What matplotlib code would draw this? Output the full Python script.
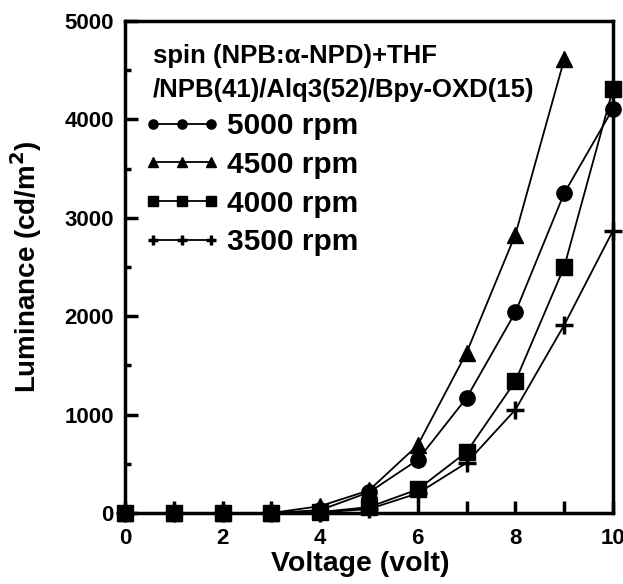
import matplotlib
matplotlib.use("Agg")
import matplotlib.pyplot as plt
from matplotlib.ticker import MultipleLocator

plt.rcParams['font.family'] = ['Liberation Sans', 'DejaVu Sans']
plt.rcParams['font.weight'] = 'bold'

voltage = [0, 1, 2, 3, 4, 5, 6, 7, 8, 9, 10]
lum_5000 = [0, 0, 0, 0, 30, 210, 540, 1170, 2040, 3250, 4110]
lum_4500 = [0, 0, 0, 0, 70, 230, 690, 1630, 2830, 4610]
lum_4000 = [0, 0, 0, 0, 10, 60, 240, 620, 1340, 2500, 4310]
lum_3500 = [0, 0, 0, 0, 5, 40, 200, 510, 1050, 1910, 2870]
labels = ['5000 rpm', '4500 rpm', '4000 rpm', '3500 rpm']
title_lines = ['spin (NPB:α-NPD)+THF', '/NPB(41)/Alq3(52)/Bpy-OXD(15)']

fig = plt.figure(figsize=(6.23, 5.84), dpi=100)
ax = fig.add_axes([125/623, 1-513/584, 488/623, 492/584])

kw = dict(color='black', lw=1.3, clip_on=False, zorder=3)
ax.plot(voltage, lum_5000, marker='o', ms=11, label=labels[0], **kw)
ax.plot(voltage[:len(lum_4500)], lum_4500, marker='^', ms=11, label=labels[1], **kw)
ax.plot(voltage, lum_4000, marker='s', ms=11.5, label=labels[2], **kw)
ax.plot(voltage, lum_3500, marker='+', ms=13, mew=2.5, label=labels[3], **kw)

ax.set_xlim(0, 10)
ax.set_ylim(0, 5000)
ax.xaxis.set_major_locator(MultipleLocator(2))
ax.xaxis.set_minor_locator(MultipleLocator(1))
ax.yaxis.set_major_locator(MultipleLocator(1000))
ax.yaxis.set_minor_locator(MultipleLocator(500))
ax.tick_params(which='both', direction='in', width=2.5, labelsize=16, top=False, right=False)
ax.tick_params(axis='x', which='both', length=9, pad=11)
ax.tick_params(axis='y', which='major', length=9, pad=8)
ax.tick_params(axis='y', which='minor', length=4)
for lab in ax.get_xticklabels() + ax.get_yticklabels():
    lab.set_fontweight('bold')
for s in ax.spines.values():
    s.set_linewidth(2.5)

ax.set_xlabel('Voltage (volt)', fontsize=20.5, fontweight='bold')
ax.xaxis.set_label_coords(0.482, -0.078)
ax.set_ylabel('Luminance (cd/m$^\\mathbf{2}$)', fontsize=20, fontweight='bold')
ax.yaxis.set_label_coords(-0.166, 0.5)

ax.text(0.057, 0.929, title_lines[0], transform=ax.transAxes, fontsize=18.5,
        fontweight='bold', va='center', ha='left')
ax.text(0.057, 0.860, title_lines[1], transform=ax.transAxes, fontsize=18.5,
        fontweight='bold', va='center', ha='left')

leg = ax.legend(loc='upper left', bbox_to_anchor=(0.039, 0.815), frameon=False,
                fontsize=21.5, numpoints=3, handlelength=2.55, handletextpad=0.22,
                labelspacing=0.36, borderpad=0, borderaxespad=0, markerscale=0.6)
for t in leg.get_texts():
    t.set_fontweight('bold')

fig.savefig('out.png', dpi=100)
